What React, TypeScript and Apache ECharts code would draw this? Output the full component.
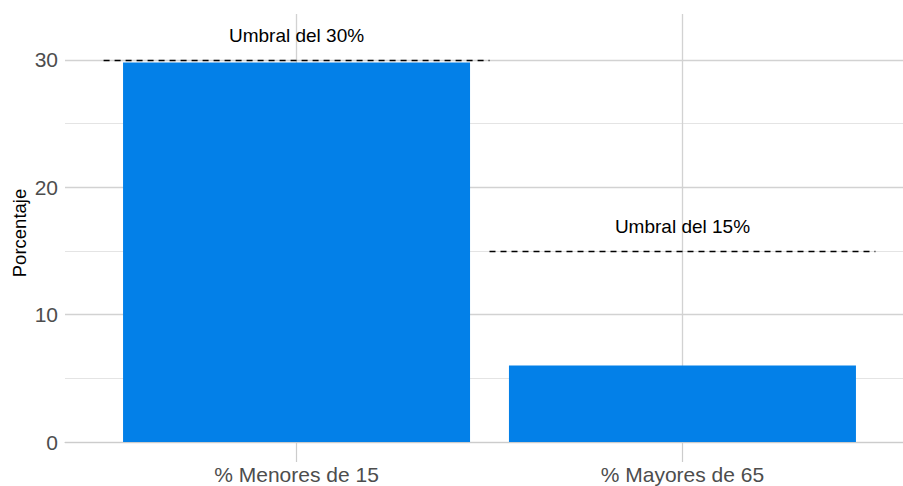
import React, { useEffect, useRef } from "react";
import * as echarts from "echarts";

const categories: string[] = ["% Menores de 15", "% Mayores de 65"];
const values: number[] = [29.8, 6.0];
const thresholdValues: number[] = [30, 15];
const thresholdCategory: number[] = [1, 2];
const thresholdLabels: string[] = ["Umbral del 30%", "Umbral del 15%"];
const yTickValues: number[] = [0, 10, 20, 30];

const FONT = "'Liberation Sans', Arial, Helvetica, sans-serif";

export default function App() {
  const ref = useRef<HTMLDivElement>(null);
  useEffect(() => {
    if (!ref.current) return;
    const chart = echarts.init(ref.current, null, { renderer: "svg" });
    const positions = categories.map((_, i) => i + 1);
    const barData = values.map((v, i) => [positions[i], v]);
    const markData = thresholdValues.map((v, i) => [
      {
        coord: [thresholdCategory[i] - 0.5, v],
        name: thresholdLabels[i],
      },
      { coord: [thresholdCategory[i] + 0.5, v] },
    ]);
    chart.setOption({
      animation: false,
      backgroundColor: "#ffffff",
      textStyle: { fontFamily: FONT },
      grid: {
        left: 65,
        top: 14,
        width: 849,
        bottom: 44,
        containLabel: false,
        outerBoundsMode: "none",
      },
      xAxis: {
        type: "value",
        min: 0.4,
        max: 2.6,
        axisLine: { show: true, lineStyle: { color: "#cccccc", width: 1.2 } },
        axisTick: {
          show: true,
          customValues: positions,
          length: 20,
          lineStyle: { color: "#cccccc", width: 1.2 },
        },
        axisLabel: {
          customValues: positions,
          formatter: (v: number) => categories[Math.round(v) - 1] ?? "",
          fontSize: 21,
          color: "#4d4d4d",
          margin: 22,
          fontFamily: FONT,
        },
        splitLine: { show: true, lineStyle: { color: "#d2d2d2", width: 1.3 } },
      },
      yAxis: [
        {
          type: "value",
          position: "left",
          min: 0,
          max: 33.6,
          interval: 5,
          axisLine: { show: false },
          axisTick: { show: false },
          axisLabel: { show: false },
          splitLine: {
            show: true,
            showMaxLine: false,
            lineStyle: { color: "#e4e4e4", width: 1 },
          },
        },
        {
          type: "value",
          position: "left",
          offset: 0,
          min: 0,
          max: 33.6,
          interval: 10,
          name: "Porcentaje",
          nameLocation: "middle",
          nameGap: 36,
          nameMoveOverlap: false,
          nameTextStyle: {
            fontSize: 18.5,
            color: "#000000",
            fontFamily: FONT,
            padding: [0, 10, 0, 0],
          },
          axisLine: { show: false },
          axisTick: { show: false },
          axisLabel: {
            fontSize: 21,
            color: "#4d4d4d",
            margin: 7,
            fontFamily: FONT,
            formatter: (v: number) =>
              yTickValues.includes(v) ? String(v) : "",
          },
          splitLine: {
            show: true,
            showMaxLine: false,
            lineStyle: { color: "#d2d2d2", width: 1.3 },
          },
        },
      ],
      series: [
        {
          type: "bar",
          xAxisIndex: 0,
          yAxisIndex: 1,
          data: barData,
          barWidth: 347,
          itemStyle: { color: "#0380E8" },
          markLine: {
            silent: true,
            symbol: ["none", "none"],
            lineStyle: { color: "#000000", type: [6, 5], width: 1.3 },
            label: {
              show: true,
              position: "middle",
              formatter: "{b}",
              distance: 15,
              fontSize: 19,
              color: "#000000",
              fontFamily: FONT,
            },
            data: markData,
          },
        },
      ],
    });
    return () => chart.dispose();
  }, []);
  return (
    <div
      ref={ref}
      style={{ position: "absolute", left: 0, top: 0, width: 903, height: 486 }}
    />
  );
}
